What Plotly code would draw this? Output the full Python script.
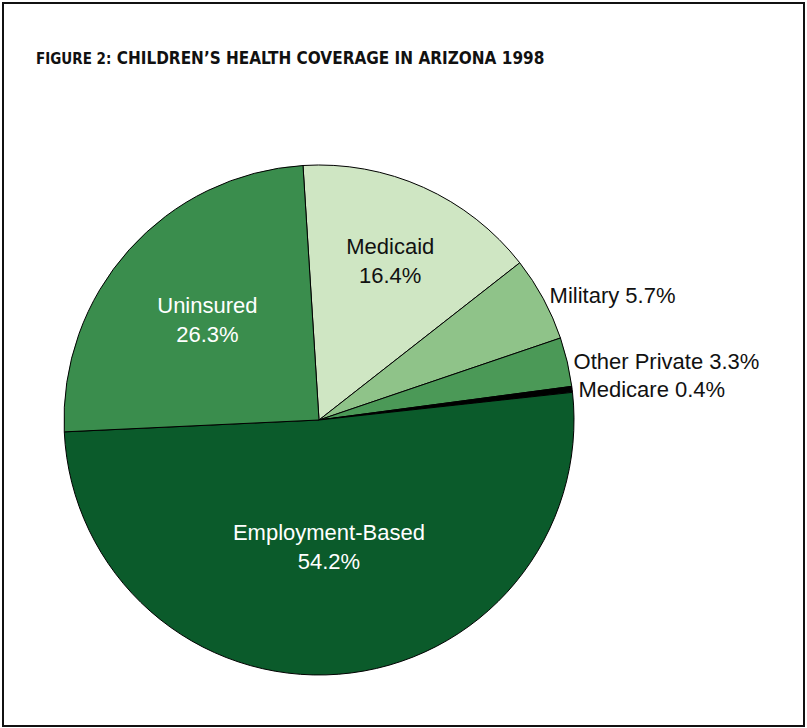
import plotly.graph_objects as go

labels = ["Medicaid", "Military", "Other Private", "Medicare", "Employment-Based", "Uninsured"]
values = [16.4, 5.7, 3.3, 0.4, 54.2, 26.3]
colors = ["#cfe6c3", "#8fc389", "#4b9957", "#000000", "#0b5b2b", "#3a8d4d"]
text_colors = ["#111111", "#111111", "#111111", "#111111", "#ffffff", "#ffffff"]
positions = ["inside", "outside", "outside", "outside", "inside", "inside"]
templates = ["%{label}<br>%{value}%", "%{label} %{value}%", "%{label} %{value}%",
             "%{label} %{value}%", "%{label}<br>%{value}%", "%{label}<br>%{value}%"]

W, H = 807, 728
cx, cy, r = 319, 420, 255

fig = go.Figure(go.Pie(
    labels=labels,
    values=values,
    sort=False,
    direction="clockwise",
    rotation=-3.6,
    marker=dict(colors=colors, line=dict(color="#000000", width=1)),
    texttemplate=templates,
    textposition=positions,
    textfont=dict(color=text_colors, size=22, family="Liberation Sans, Arial"),
    insidetextorientation="horizontal",
    hoverinfo="label+value",
    showlegend=False,
    domain=dict(x=[(cx - r) / W, (cx + r) / W], y=[(H - cy - r) / H, (H - cy + r) / H]),
))

fig.add_annotation(
    x=34 / W, y=1 - 58 / H, xref="paper", yref="paper",
    xanchor="left", yanchor="middle", showarrow=False,
    text="<b><span style='font-size:15px'>FIGURE 2:</span> CHILDREN’S HEALTH COVERAGE IN ARIZONA 1998</b>",
    font=dict(family="DejaVu Sans Condensed, Liberation Sans Narrow, Arial Narrow", size=17, color="#111111"),
)

fig.add_shape(type="rect", xref="paper", yref="paper",
              x0=3 / W, x1=1 - 3 / W, y0=2 / H, y1=1 - 3 / H,
              line=dict(color="#111111", width=2))

fig.update_layout(
    width=W, height=H,
    margin=dict(l=0, r=0, t=0, b=0),
    paper_bgcolor="white",
    plot_bgcolor="white",
)

fig.write_html("out.html", config={"displayModeBar": False},
               post_script="document.body.style.margin='0';")
